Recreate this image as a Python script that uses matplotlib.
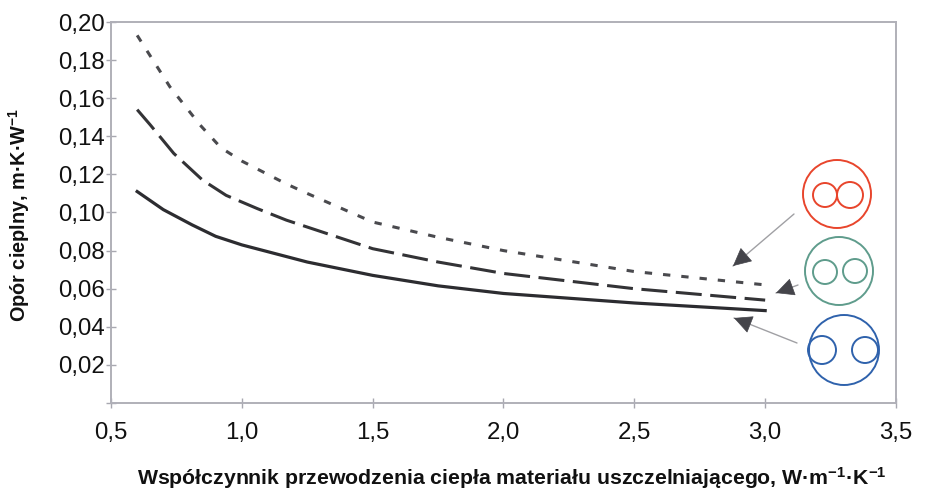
import matplotlib
matplotlib.use("Agg")
import matplotlib.pyplot as plt
from matplotlib.patches import Circle

plt.rcParams['font.family'] = ['Liberation Sans', 'DejaVu Sans']
plt.rcParams['mathtext.default'] = 'regular'

W, H = 926, 494

# curves
x_solid = [0.6, 0.7, 0.81, 0.9, 1.0, 1.25, 1.5, 1.75, 2.0, 2.5, 3.0]
y_solid = [0.111, 0.1015, 0.0935, 0.0875, 0.083, 0.074, 0.067, 0.0615, 0.0575, 0.0525, 0.0485]
x_dash = [0.6, 0.65, 0.74, 0.85, 0.94, 1.06, 1.17, 1.5, 1.75, 2.0, 2.5, 3.0]
y_dash = [0.154, 0.146, 0.131, 0.117, 0.109, 0.102, 0.096, 0.081, 0.074, 0.068, 0.060, 0.054]
x_dot = [0.6, 0.725, 0.84, 0.92, 1.0, 1.17, 1.25, 1.5, 1.75, 2.0, 2.5, 3.0]
y_dot = [0.193, 0.166, 0.146, 0.134, 0.127, 0.115, 0.110, 0.095, 0.087, 0.080, 0.069, 0.062]

x_ticks = [0.5, 1.0, 1.5, 2.0, 2.5, 3.0, 3.5]
x_labels = ['0,5', '1,0', '1,5', '2,0', '2,5', '3,0', '3,5']
y_ticks = [0.0, 0.02, 0.04, 0.06, 0.08, 0.10, 0.12, 0.14, 0.16, 0.18, 0.20]
y_labels = ['', '0,02', '0,04', '0,06', '0,08', '0,10', '0,12', '0,14', '0,16', '0,18', '0,20']

# icons: outer circle, two inner circles (pixels), colour
icons = [
    ((837, 194, 34), (825, 195, 12), (850, 195, 13), '#e8452c'),
    ((839, 271, 34), (825, 272, 12), (855, 271, 12), '#5f9c8c'),
    ((844, 350, 35), (822, 350, 14), (865, 350, 13), '#2f62ac'),
]
arrows = [
    ((794, 214), (733, 266)),
    ((798, 285), (776, 293)),
    ((797, 343), (734, 318)),
]

fig = plt.figure(figsize=(W / 100, H / 100), dpi=100)
ax = fig.add_axes([111 / W, 1 - 403 / H, (896 - 111) / W, (403 - 22) / H])

ax.plot(x_dot, y_dot, color='#4a4a4e', lw=2.2, dashes=(2.4, 3.6))
ax.plot(x_dash, y_dash, color='#333336', lw=2.2, dashes=(8.5, 2.8))
ax.plot(x_solid, y_solid, color='#2c2c30', lw=2.3)

ax.set_xlim(0.5, 3.5)
ax.set_ylim(0, 0.20)
ax.set_xticks(x_ticks)
ax.set_xticklabels(x_labels)
ax.set_yticks(y_ticks)
ax.set_yticklabels(y_labels)
ax.tick_params(axis='both', direction='inout', length=7.5, width=1, color='#a8a8b0',
               labelsize=17.3, labelcolor='#111111')
ax.tick_params(axis='x', pad=10)
ax.tick_params(axis='y', pad=1)
for s in ax.spines.values():
    s.set_color('#b0b0b8')
    s.set_linewidth(1.4)

# overlay in pixel coordinates for the icons
over = fig.add_axes([0, 0, 1, 1], facecolor='none')
over.set_xlim(0, W)
over.set_ylim(H, 0)
over.axis('off')

for outer, left, right, col in icons:
    for cx, cy, r in (outer, left, right):
        over.add_patch(Circle((cx, cy), r, fill=False, ec=col, lw=1.4))

for start, end in arrows:
    over.annotate('', xy=end, xytext=start,
                  arrowprops=dict(arrowstyle='-', color='#a0a0a4', lw=1, shrinkA=0, shrinkB=0))
    # head only: short stem so the grey line stays visible
    dx, dy = start[0] - end[0], start[1] - end[1]
    frac = 12 / (dx ** 2 + dy ** 2) ** 0.5
    over.annotate('', xy=end, xytext=(end[0] + dx * frac, end[1] + dy * frac),
                  arrowprops=dict(arrowstyle='-|>,head_length=0.85,head_width=0.42',
                                  fc='#44444a', ec='#44444a', lw=0.5,
                                  shrinkA=0, shrinkB=0, mutation_scale=14))

fig.text(512 / W, 1 - 478 / H,
         'Współczynnik przewodzenia ciepła materiału uszczelniającego, W·m$^{-1}$·K$^{-1}$',
         ha='center', va='center', fontsize=15.3, fontweight='bold', color='#111111')
fig.text(19 / W, 1 - 215 / H, 'Opór cieplny, m·K·W$^{-1}$', rotation=90,
         ha='center', va='center', fontsize=14.3, fontweight='bold', color='#111111')

fig.savefig('out.png', dpi=100)
